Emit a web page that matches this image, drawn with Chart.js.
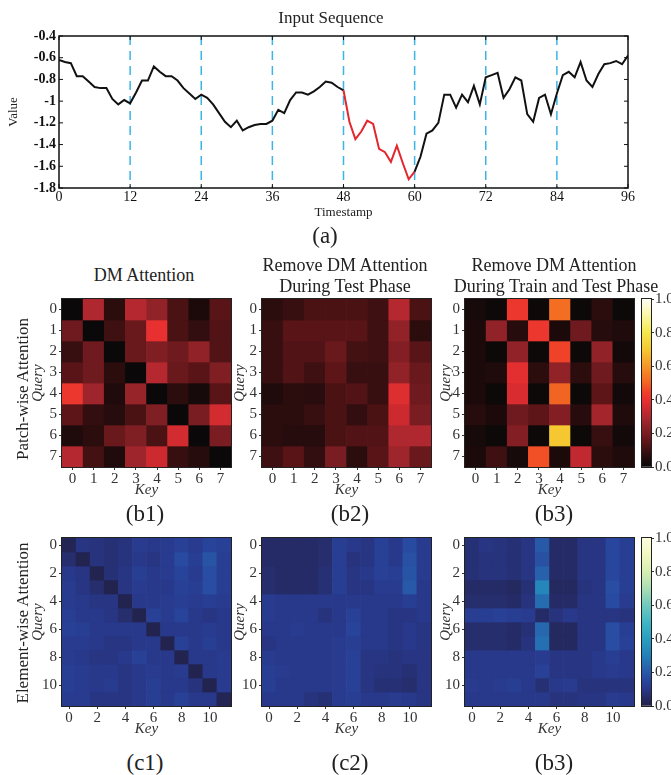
<!DOCTYPE html>
<html><head><meta charset="utf-8">
<script src="https://cdn.jsdelivr.net/npm/chart.js@4.4.0/dist/chart.umd.min.js"></script>
<style>
html,body{margin:0;padding:0;background:#fff;}
#root{position:relative;width:671px;height:775px;overflow:hidden;font-family:"Liberation Serif","Times New Roman",serif;color:#222;}
canvas{position:absolute;}
.t{position:absolute;white-space:nowrap;transform:translate(-50%,-50%);line-height:1;}
.rot{transform:translate(-50%,-50%) rotate(-90deg);}
</style></head><body><div id="root">
<canvas id="line" width="671" height="225" style="left:0;top:0"></canvas>
<canvas id="b1" width="240" height="215" style="left:0;top:290px"></canvas>
<canvas id="b2" width="240" height="215" style="left:200px;top:290px"></canvas>
<canvas id="b3" width="240" height="215" style="left:403px;top:290px"></canvas>
<canvas id="cbHot" width="51" height="215" style="left:620px;top:290px"></canvas>
<canvas id="c1" width="240" height="215" style="left:0;top:529px"></canvas>
<canvas id="c2" width="240" height="215" style="left:200px;top:529px"></canvas>
<canvas id="c3" width="240" height="215" style="left:403px;top:529px"></canvas>
<canvas id="cbBlue" width="51" height="215" style="left:620px;top:529px"></canvas>

<div class="t" style="left:331px;top:17px;font-size:17px">Input Sequence</div>
<div class="t" style="left:325px;top:235px;font-size:23px">(a)</div>
<div class="t" style="left:144px;top:275px;font-size:18px">DM Attention</div>
<div class="t" style="left:345px;top:265px;font-size:18px">Remove DM Attention</div>
<div class="t" style="left:345px;top:286px;font-size:18px">During Test Phase</div>
<div class="t" style="left:554px;top:265px;font-size:18px">Remove DM Attention</div>
<div class="t" style="left:556px;top:286px;font-size:18px">During Train and Test Phase</div>
<div class="t rot" style="left:22px;top:389px;font-size:17px">Patch-wise Attention</div>
<div class="t rot" style="left:22px;top:623px;font-size:17px">Element-wise Attention</div>
<div class="t" style="left:145px;top:513px;font-size:23px">(b1)</div>
<div class="t" style="left:350px;top:513px;font-size:23px">(b2)</div>
<div class="t" style="left:554px;top:513px;font-size:23px">(b3)</div>
<div class="t" style="left:145px;top:762px;font-size:23px">(c1)</div>
<div class="t" style="left:350px;top:762px;font-size:23px">(c2)</div>
<div class="t" style="left:554px;top:762px;font-size:23px">(b3)</div>
</div>
<script>
// ---------------- data ----------------
const inputSequence = [
 -0.62,-0.64,-0.65,-0.77,-0.77,-0.82,-0.87,-0.88,-0.88,-0.98,
 -1.03,-0.99,-1.02,-0.92,-0.81,-0.81,-0.68,-0.73,-0.77,-0.77,
 -0.81,-0.88,-0.93,-0.98,-0.94,-0.97,-1.03,-1.11,-1.19,-1.24,
 -1.18,-1.27,-1.24,-1.22,-1.21,-1.21,-1.18,-1.08,-1.11,-0.99,
 -0.92,-0.92,-0.94,-0.91,-0.87,-0.82,-0.83,-0.87,-0.90,-1.19,
 -1.35,-1.28,-1.18,-1.21,-1.44,-1.47,-1.56,-1.41,-1.57,-1.72,
 -1.65,-1.51,-1.30,-1.27,-1.20,-0.94,-0.94,-1.06,-0.94,-1.01,
 -0.86,-1.03,-0.78,-0.76,-0.74,-0.97,-0.89,-0.78,-0.81,-1.12,
 -1.19,-0.97,-0.94,-1.12,-0.93,-0.76,-0.73,-0.78,-0.64,-0.81,
 -0.87,-0.75,-0.66,-0.65,-0.63,-0.66,-0.58];
const anomalyStart = 48;
const anomalyEnd = 60;
const patchBoundaries = [12, 24, 36, 48, 60, 72, 84];
const timestampTicks = [0, 12, 24, 36, 48, 60, 72, 84, 96];

const patchTicks = [0, 1, 2, 3, 4, 5, 6, 7];
const elementTicks = [0, 2, 4, 6, 8, 10];

const dmAttention = [
 [0.00,0.30,0.07,0.31,0.25,0.12,0.04,0.14],
 [0.18,0.00,0.10,0.17,0.40,0.12,0.08,0.13],
 [0.09,0.18,0.00,0.17,0.21,0.18,0.25,0.13],
 [0.14,0.18,0.07,0.00,0.31,0.17,0.14,0.21],
 [0.42,0.27,0.05,0.26,0.00,0.07,0.03,0.14],
 [0.15,0.08,0.06,0.12,0.21,0.00,0.20,0.36],
 [0.05,0.07,0.17,0.21,0.12,0.36,0.00,0.20],
 [0.31,0.11,0.05,0.27,0.35,0.09,0.06,0.00]];
const removeTestAttention = [
 [0.07,0.09,0.12,0.12,0.12,0.10,0.31,0.12],
 [0.09,0.14,0.14,0.14,0.14,0.10,0.25,0.07],
 [0.09,0.13,0.13,0.17,0.11,0.10,0.22,0.14],
 [0.09,0.13,0.10,0.15,0.09,0.09,0.25,0.17],
 [0.05,0.07,0.065,0.12,0.13,0.09,0.38,0.18],
 [0.07,0.07,0.09,0.12,0.08,0.12,0.35,0.20],
 [0.07,0.06,0.06,0.12,0.13,0.13,0.30,0.30],
 [0.10,0.14,0.08,0.20,0.07,0.14,0.27,0.17]];
const removeTrainTestAttention = [
 [0.03,0.01,0.42,0.01,0.52,0.01,0.07,0.01],
 [0.04,0.25,0.06,0.42,0.04,0.18,0.06,0.05],
 [0.04,0.01,0.25,0.01,0.45,0.01,0.25,0.02],
 [0.04,0.05,0.39,0.07,0.25,0.07,0.18,0.06],
 [0.04,0.01,0.37,0.01,0.50,0.01,0.15,0.02],
 [0.06,0.04,0.18,0.15,0.22,0.06,0.28,0.05],
 [0.03,0.01,0.22,0.01,0.70,0.01,0.09,0.02],
 [0.04,0.10,0.03,0.47,0.04,0.33,0.07,0.05]];

const dmElement = [
 [0.02,0.09,0.08,0.07,0.08,0.11,0.10,0.11,0.13,0.11,0.14,0.13],
 [0.06,0.01,0.08,0.07,0.08,0.10,0.09,0.11,0.16,0.12,0.19,0.12],
 [0.10,0.09,0.01,0.07,0.09,0.12,0.10,0.11,0.14,0.11,0.17,0.12],
 [0.11,0.09,0.06,0.01,0.09,0.11,0.10,0.10,0.13,0.12,0.17,0.12],
 [0.11,0.10,0.09,0.09,0.01,0.10,0.10,0.11,0.12,0.11,0.12,0.11],
 [0.12,0.10,0.10,0.09,0.06,0.01,0.13,0.11,0.14,0.10,0.09,0.10],
 [0.13,0.12,0.10,0.10,0.10,0.10,0.01,0.10,0.10,0.10,0.11,0.10],
 [0.11,0.11,0.10,0.09,0.09,0.10,0.10,0.01,0.13,0.10,0.12,0.10],
 [0.11,0.10,0.09,0.09,0.10,0.13,0.10,0.10,0.01,0.10,0.10,0.11],
 [0.12,0.11,0.10,0.10,0.09,0.10,0.11,0.10,0.11,0.01,0.10,0.11],
 [0.12,0.11,0.10,0.11,0.09,0.10,0.12,0.10,0.10,0.08,0.01,0.11],
 [0.11,0.11,0.09,0.09,0.09,0.10,0.12,0.10,0.13,0.10,0.10,0.02]];
const removeTestElement = [
 [0.05,0.05,0.05,0.05,0.06,0.12,0.10,0.09,0.13,0.10,0.16,0.11],
 [0.05,0.05,0.05,0.05,0.06,0.12,0.08,0.09,0.13,0.10,0.18,0.11],
 [0.06,0.05,0.05,0.05,0.07,0.12,0.09,0.10,0.13,0.12,0.19,0.11],
 [0.06,0.05,0.05,0.05,0.07,0.12,0.09,0.09,0.11,0.11,0.20,0.10],
 [0.11,0.10,0.10,0.10,0.10,0.10,0.10,0.10,0.10,0.10,0.12,0.10],
 [0.11,0.10,0.10,0.10,0.08,0.10,0.13,0.10,0.10,0.09,0.09,0.10],
 [0.10,0.10,0.11,0.10,0.10,0.10,0.14,0.10,0.10,0.09,0.10,0.09],
 [0.09,0.10,0.10,0.10,0.10,0.11,0.12,0.10,0.10,0.09,0.10,0.09],
 [0.11,0.10,0.10,0.10,0.10,0.11,0.13,0.09,0.09,0.08,0.09,0.09],
 [0.12,0.11,0.10,0.10,0.10,0.11,0.13,0.09,0.08,0.08,0.07,0.09],
 [0.12,0.10,0.10,0.10,0.10,0.11,0.13,0.09,0.07,0.07,0.06,0.09],
 [0.10,0.10,0.10,0.08,0.07,0.11,0.12,0.10,0.10,0.11,0.10,0.09]];
const removeTrainTestElement = [
 [0.07,0.09,0.08,0.07,0.09,0.20,0.05,0.05,0.09,0.09,0.15,0.12],
 [0.07,0.08,0.08,0.07,0.09,0.18,0.05,0.05,0.09,0.09,0.15,0.12],
 [0.07,0.08,0.08,0.07,0.09,0.22,0.05,0.05,0.09,0.09,0.15,0.12],
 [0.05,0.05,0.05,0.04,0.07,0.32,0.04,0.04,0.08,0.09,0.17,0.12],
 [0.06,0.06,0.06,0.05,0.08,0.25,0.05,0.05,0.09,0.09,0.16,0.11],
 [0.12,0.12,0.13,0.12,0.11,0.05,0.08,0.10,0.09,0.09,0.09,0.08],
 [0.06,0.06,0.06,0.05,0.07,0.24,0.04,0.04,0.09,0.09,0.17,0.12],
 [0.06,0.06,0.06,0.05,0.08,0.26,0.04,0.04,0.09,0.09,0.17,0.13],
 [0.10,0.10,0.10,0.10,0.10,0.11,0.09,0.09,0.09,0.10,0.12,0.10],
 [0.10,0.10,0.10,0.10,0.10,0.13,0.09,0.09,0.09,0.10,0.11,0.10],
 [0.11,0.10,0.11,0.12,0.10,0.07,0.10,0.11,0.08,0.08,0.08,0.08],
 [0.10,0.10,0.10,0.10,0.10,0.10,0.08,0.08,0.09,0.09,0.11,0.10]];

const colorbarTicks = [0, 0.2, 0.4, 0.6, 0.8, 1.0];

// ---------------- colour maps ----------------
const hotStops = [
 [0.00,[10,8,8]],[0.05,[32,11,12]],[0.10,[62,16,18]],[0.15,[94,21,24]],
 [0.20,[122,29,34]],[0.25,[145,35,40]],[0.30,[176,40,47]],[0.35,[205,42,48]],
 [0.40,[232,48,48]],[0.45,[240,66,40]],[0.50,[242,100,34]],[0.60,[245,150,40]],
 [0.70,[245,200,50]],[0.80,[245,232,75]],[0.90,[250,246,165]],[1.00,[255,255,245]]];
const blueStops = [
 [0.00,[33,33,72]],[0.05,[37,43,102]],[0.10,[40,56,138]],[0.15,[40,70,158]],
 [0.20,[40,88,168]],[0.30,[34,128,184]],[0.40,[42,158,192]],[0.50,[66,182,196]],
 [0.60,[112,200,190]],[0.70,[170,222,180]],[0.80,[215,238,178]],[0.90,[240,248,192]],
 [1.00,[255,255,225]]];
const rgb = c => `rgb(${c.map(Math.round).join(',')})`;
function makeCmap(stops) {
  return v => {
    v = Math.max(0, Math.min(1, v));
    for (let i = 1; i < stops.length; i++) {
      if (v <= stops[i][0]) {
        const [a, ca] = stops[i-1], [b, cb] = stops[i];
        const t = (v - a) / (b - a);
        return rgb(ca.map((c, j) => c + (cb[j] - c) * t));
      }
    }
    return rgb(stops[stops.length-1][1]);
  };
}
const hot = makeCmap(hotStops);
const blue = makeCmap(blueStops);

// ---------------- chart setup ----------------
Chart.defaults.font.family = '"Liberation Serif","Times New Roman",serif';
Chart.defaults.color = '#222';
const common = {responsive:false, animation:false, devicePixelRatio:1, events:[],
  plugins:{legend:{display:false}, tooltip:{enabled:false}}};

const framePlugin = {
  id: 'frame',
  afterDatasetsDraw(chart) {
    const {ctx, chartArea: a} = chart;
    ctx.save();
    ctx.strokeStyle = '#222'; ctx.lineWidth = 1;
    ctx.strokeRect(a.left - 0.5, a.top - 0.5, a.right - a.left + 1, a.bottom - a.top + 1);
    ctx.restore();
  }
};

const lineDecor = {
  id: 'lineDecor',
  beforeDatasetsDraw(chart) {
    const {ctx, chartArea: a, scales: {x}} = chart;
    ctx.save();
    ctx.strokeStyle = '#3cb4e4'; ctx.lineWidth = 1.5; ctx.setLineDash([9, 6]);
    patchBoundaries.forEach(b => {
      const px = x.getPixelForValue(b);
      ctx.beginPath(); ctx.moveTo(px, a.top); ctx.lineTo(px, a.bottom); ctx.stroke();
    });
    ctx.restore();
  },
  afterDraw(chart) {
    const {ctx, chartArea: a, scales: {x, y}} = chart;
    ctx.save();
    ctx.strokeStyle = '#111'; ctx.lineWidth = 1.5;
    ctx.strokeRect(a.left, a.top, a.right - a.left, a.bottom - a.top);
    ctx.lineWidth = 1;
    ctx.beginPath();
    x.ticks.forEach(t => {
      const px = x.getPixelForValue(t.value);
      ctx.moveTo(px, a.bottom); ctx.lineTo(px, a.bottom - 4);
      ctx.moveTo(px, a.top); ctx.lineTo(px, a.top + 4);
    });
    y.ticks.forEach(t => {
      const py = y.getPixelForValue(t.value);
      ctx.moveTo(a.left, py); ctx.lineTo(a.left + 4, py);
      ctx.moveTo(a.right, py); ctx.lineTo(a.right - 4, py);
    });
    ctx.stroke();
    ctx.restore();
  }
};

new Chart(document.getElementById('line'), {
  type: 'line',
  data: { datasets: [{
    data: inputSequence.map((v, i) => ({x: i, y: v})),
    borderColor: '#111', borderWidth: 2, pointRadius: 0, tension: 0,
    segment: { borderColor: c => (c.p0DataIndex >= anomalyStart && c.p1DataIndex <= anomalyEnd) ? '#e3262b' : '#111' }
  }]},
  options: {...common,
    layout: {padding: {top: 36, right: 43, left: 0, bottom: 0}},
    scales: {
      x: {type: 'linear', min: 0, max: 96,
        grid: {display: false, drawTicks: false}, border: {display: false},
        afterBuildTicks: s => { s.ticks = timestampTicks.map(v => ({value: v})); },
        ticks: {autoSkip: false, maxRotation: 0, padding: 1, font: {size: 14}, color: '#111'},
        title: {display: true, text: 'Timestamp', font: {size: 13}, color: '#222', padding: {top: 0, bottom: 5}},
        afterFit: s => { s.height = 37; s.paddingLeft = 0; s.paddingRight = 0; }},
      y: {min: -1.8, max: -0.4,
        grid: {display: false, drawTicks: false}, border: {display: false},
        ticks: {stepSize: 0.2, padding: 3, font: {size: 14, weight: 'bold'}, color: '#111',
          callback: v => String(Math.round(v * 10) / 10)},
        title: {display: true, text: 'Value', font: {size: 13}, color: '#222', padding: {top: 6, bottom: 0}},
        afterFit: s => { s.width = 59; s.paddingTop = 0; s.paddingBottom = 0; }}
    }},
  plugins: [lineDecor]
});

function heatmap(id, matrix, tickIdx, cmap, titlePad) {
  const keys = matrix[0].map((_, k) => String(k));
  new Chart(document.getElementById(id), {
    type: 'bar',
    data: { labels: keys, datasets: matrix.map((row, q) => ({
      data: row.map(() => [q, q + 1]),
      backgroundColor: row.map(cmap),
      borderWidth: 0, barPercentage: 1, categoryPercentage: 1, grouped: false
    }))},
    options: {...common,
      layout: {padding: {top: 9, right: 9, left: 0, bottom: 0}},
      scales: {
        x: {offset: true,
          grid: {offset: false, drawOnChartArea: false, tickLength: 3, tickColor: '#333', tickWidth: 1},
          border: {display: false},
          ticks: {autoSkip: false, maxRotation: 0, padding: 0, font: {size: 15}, color: '#333',
            callback: (v, i) => tickIdx.includes(i) ? keys[i] : null},
          title: {display: true, text: 'Key', font: {size: 15, style: 'italic'}, color: '#333', padding: {top: 0, bottom: 6}},
          afterFit: s => { s.height = 38; s.paddingLeft = 0; s.paddingRight = 0; }},
        y: {min: 0, max: matrix.length, reverse: true,
          grid: {drawOnChartArea: false, tickLength: 3, tickColor: '#333', tickWidth: 1},
          border: {display: false},
          afterBuildTicks: s => { s.ticks = tickIdx.map(q => ({value: q + 0.5})); },
          ticks: {autoSkip: false, padding: 2, font: {size: 15}, color: '#333', callback: v => String(v - 0.5)},
          title: {display: true, text: 'Query', font: {size: 15, style: 'italic'}, color: '#333', padding: {top: titlePad, bottom: 0}},
          afterFit: s => { s.width = 62; s.paddingTop = 0; s.paddingBottom = 0; }}
      }},
    plugins: [framePlugin]
  });
}

function colorbar(id, stops) {
  new Chart(document.getElementById(id), {
    type: 'bar',
    data: { labels: [''], datasets: [{
      data: [[0, 1]],
      backgroundColor: ctx => {
        const ca = ctx.chart.chartArea;
        if (!ca) return rgb(stops[0][1]);
        const g = ctx.chart.ctx.createLinearGradient(0, ca.bottom, 0, ca.top);
        stops.forEach(([v, c]) => g.addColorStop(v, rgb(c)));
        return g;
      },
      borderWidth: 0, barPercentage: 1, categoryPercentage: 1
    }]},
    options: {...common,
      layout: {padding: {top: 9, left: 22, right: 0, bottom: 38}},
      scales: {
        x: {display: false},
        y: {position: 'right', min: 0, max: 1,
          grid: {drawOnChartArea: false, tickLength: 3, tickColor: '#333', tickWidth: 1},
          border: {display: false},
          afterBuildTicks: s => { s.ticks = colorbarTicks.map(v => ({value: v})); },
          ticks: {autoSkip: false, padding: 1, font: {size: 15}, color: '#333', callback: v => v.toFixed(1)},
          afterFit: s => { s.width = 20; s.paddingTop = 0; s.paddingBottom = 0; }}
      }},
    plugins: [framePlugin]
  });
}

heatmap('b1', dmAttention, patchTicks, hot, 29);
heatmap('b2', removeTestAttention, patchTicks, hot, 31);
heatmap('b3', removeTrainTestAttention, patchTicks, hot, 34);
colorbar('cbHot', hotStops);
heatmap('c1', dmElement, elementTicks, blue, 29);
heatmap('c2', removeTestElement, elementTicks, blue, 31);
heatmap('c3', removeTrainTestElement, elementTicks, blue, 34);
colorbar('cbBlue', blueStops);
</script>
</body></html>
